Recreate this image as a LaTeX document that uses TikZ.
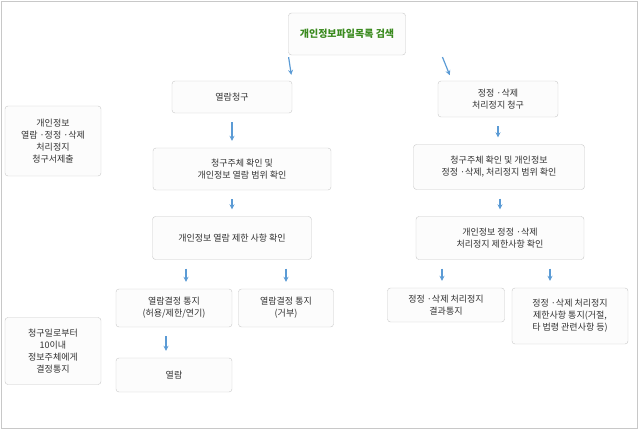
\documentclass[tikz,border=0pt]{standalone}
\usepackage{fontspec}
\setmainfont{Noto Sans CJK KR}
\usetikzlibrary{arrows.meta}
\definecolor{boxline}{HTML}{C8C8C8}
\definecolor{boxfill}{HTML}{FCFCFC}
\definecolor{arrowblue}{HTML}{5B9BD5}
\definecolor{titlegreen}{HTML}{3A8A1E}
\tikzset{
  stage/.style={draw=boxline,fill=boxfill,rounded corners=3pt,align=center,
    font=\fontsize{9}{12}\selectfont,text=black!80,inner sep=0pt},
  note/.style={stage},
  flow/.style={draw=arrowblue,line width=1.2pt,-{Stealth[length=5pt,width=5pt]},
    shorten <=9pt,shorten >=7pt}
}
\begin{document}
\begin{tikzpicture}[x=1pt,y=-1pt]
\useasboundingbox (0,0) rectangle (639,430);
\draw[boxline] (1,1) rectangle (637,428);
% top
\node[stage,minimum width=117,minimum height=42,text=titlegreen,
  font=\bfseries\fontsize{10}{12}\selectfont] (search) at (347,34) {개인정보파일목록 검색};
% left column
\node[stage,minimum width=120,minimum height=32] (req) at (232,97) {열람청구};
\node[stage,minimum width=178,minimum height=42] (chk) at (242,169) {청구주체 확인 및\\개인정보 열람 범위 확인};
\node[stage,minimum width=159,minimum height=43] (lim) at (232,238) {개인정보 열람 제한 사항 확인};
\node[stage,minimum width=116,minimum height=38] (ok) at (174,308) {열람결정 통지\\(허용/제한/연기)};
\node[stage,minimum width=95,minimum height=38] (no) at (286,308) {열람결정 통지\\(거부)};
\node[stage,minimum width=116,minimum height=34] (view) at (174,375) {열람};
% right column
\node[stage,minimum width=120,minimum height=36] (rreq) at (498,99) {정정 ·삭제\\처리정지 청구};
\node[stage,minimum width=171,minimum height=45] (rchk) at (499,167) {청구주체 확인 및 개인정보\\정정 ·삭제, 처리정지 범위 확인};
\node[stage,minimum width=168,minimum height=43] (rlim) at (500,238) {개인정보 정정 ·삭제\\처리정지 제한사항 확인};
\node[stage,minimum width=117,minimum height=34] (rres) at (446,305) {정정 ·삭제 처리정지\\결과통지};
\node[stage,minimum width=116,minimum height=56] (rno) at (570,316) {정정 ·삭제 처리정지\\제한사항 통지(거절,\\타 법령 관련사항 등)};
% notes
\node[note,minimum width=96,minimum height=70] (n1) at (53,141) {개인정보\\열람 ·정정 ·삭제\\처리정지\\청구서제출};
\node[note,minimum width=96,minimum height=67] (n2) at (53,351) {청구일로부터\\10이내\\정보주체에게\\결정통지};
% arrows
\draw[flow,shorten <=2pt,shorten >=6pt] (search.south west) -- (req.north east);
\draw[flow,shorten <=2pt,shorten >=6pt] ([xshift=36pt]search.south east) -- ([xshift=-46pt]rreq.north);
\draw[flow] (req.south) -- (req.south |- chk.north);
\draw[flow] (lim.north |- chk.south) -- (lim.north);
\draw[flow] ([xshift=-46pt]lim.south) -- ([xshift=-46pt]lim.south |- ok.north);
\draw[flow] ([xshift=54pt]lim.south) -- ([xshift=54pt]lim.south |- no.north);
\draw[flow] ([xshift=-8pt]ok.south) -- ([xshift=-8pt]ok.south |- view.north);
\draw[flow] (rreq.south) -- (rreq.south |- rchk.north);
\draw[flow] (rlim.north |- rchk.south) -- (rlim.north);
\draw[flow] ([xshift=-58pt]rlim.south) -- ([xshift=-58pt]rlim.south |- rres.north);
\draw[flow] ([xshift=50pt]rlim.south) -- ([xshift=50pt]rlim.south |- rno.north);
\end{tikzpicture}
\end{document}
